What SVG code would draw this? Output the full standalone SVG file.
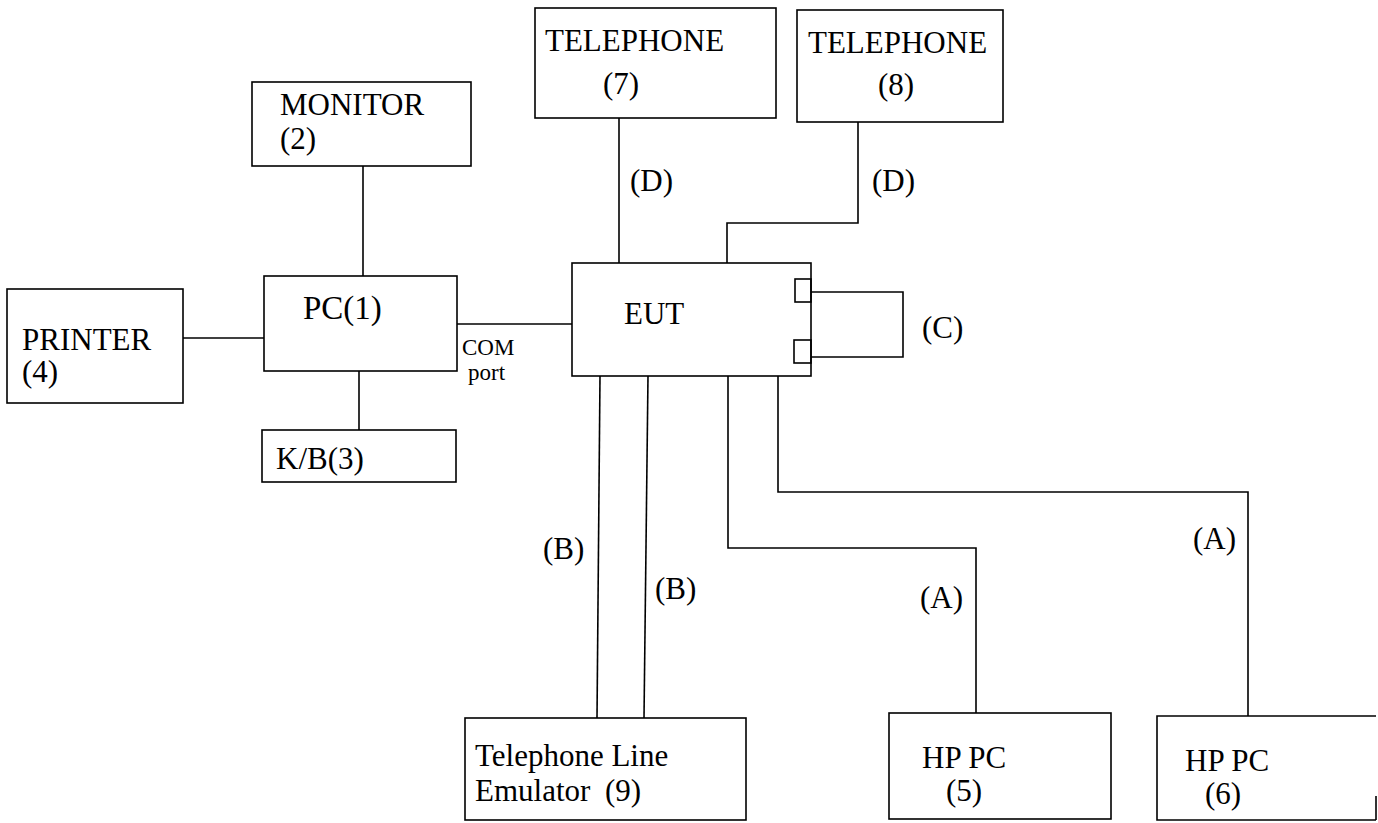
<svg xmlns="http://www.w3.org/2000/svg" width="1378" height="823" viewBox="0 0 1378 823">
<style>
.box{fill:none;stroke:#000;stroke-width:1.6}
.ln{fill:none;stroke:#000;stroke-width:1.6}
text{font-family:"Liberation Serif","Times New Roman",serif;font-size:31px;fill:#000}
.sm{font-size:23px}
</style>
<rect width="1378" height="823" fill="#fff"/>
<g id="connectors">
<path class="ln" d="M363,166 V276"/>
<path class="ln" d="M183,338 H264"/>
<path class="ln" d="M359,371 V430"/>
<path class="ln" d="M457,324 H572"/>
<path class="ln" d="M619,118 V263"/>
<path class="ln" d="M858,122 V223 H727 V263"/>
<path class="ln" d="M811,292 H903 V357 H811"/>
<path class="ln" d="M600,376 L597,718"/>
<path class="ln" d="M648,376 L644,718"/>
<path class="ln" d="M728,376 V548 H976 V713"/>
<path class="ln" d="M778,376 V492 H1248 V716"/>
<text x="630" y="191">(D)</text>
<text x="872" y="191">(D)</text>
<text x="922" y="338">(C)</text>
<text x="543" y="559">(B)</text>
<text x="655" y="599">(B)</text>
<text x="920" y="608">(A)</text>
<text x="1193" y="549">(A)</text>
<text class="sm" x="462" y="355">COM</text>
<text class="sm" x="468" y="380">port</text>
</g>
<g id="tel7">
<rect class="box" x="535" y="8" width="241" height="110"/>
<text x="545" y="51">TELEPHONE</text>
<text x="603" y="94">(7)</text>
</g>
<g id="tel8">
<rect class="box" x="797" y="10" width="206" height="112"/>
<text x="808" y="53">TELEPHONE</text>
<text x="878" y="95">(8)</text>
</g>
<g id="monitor">
<rect class="box" x="252" y="82" width="219" height="84"/>
<text x="280" y="115">MONITOR</text>
<text x="280" y="149">(2)</text>
</g>
<g id="pc">
<rect class="box" x="264" y="276" width="193" height="95"/>
<text x="303" y="319" style="font-size:33px">PC(1)</text>
</g>
<g id="printer">
<rect class="box" x="7" y="289" width="176" height="114"/>
<text x="22" y="350">PRINTER</text>
<text x="22" y="382">(4)</text>
</g>
<g id="kb">
<rect class="box" x="262" y="430" width="194" height="52"/>
<text x="276" y="469">K/B(3)</text>
</g>
<g id="eut">
<rect class="box" x="572" y="263" width="239" height="113"/>
<rect class="box" x="795" y="279" width="16" height="23"/>
<rect class="box" x="794" y="340" width="17" height="23"/>
<text x="624" y="324">EUT</text>
</g>
<g id="emulator">
<rect class="box" x="465" y="718" width="281" height="102"/>
<text x="475" y="766">Telephone Line</text>
<text x="475" y="801">Emulator</text>
<text x="605" y="801">(9)</text>
</g>
<g id="hppc5">
<rect class="box" x="889" y="713" width="222" height="106"/>
<text x="922" y="768">HP PC</text>
<text x="946" y="801">(5)</text>
</g>
<g id="hppc6">
<path class="box" d="M1376,716 H1157 V820 H1376"/>
<path class="box" d="M1376,796 V820"/>
<text x="1185" y="771">HP PC</text>
<text x="1205" y="804">(6)</text>
</g>
</svg>
